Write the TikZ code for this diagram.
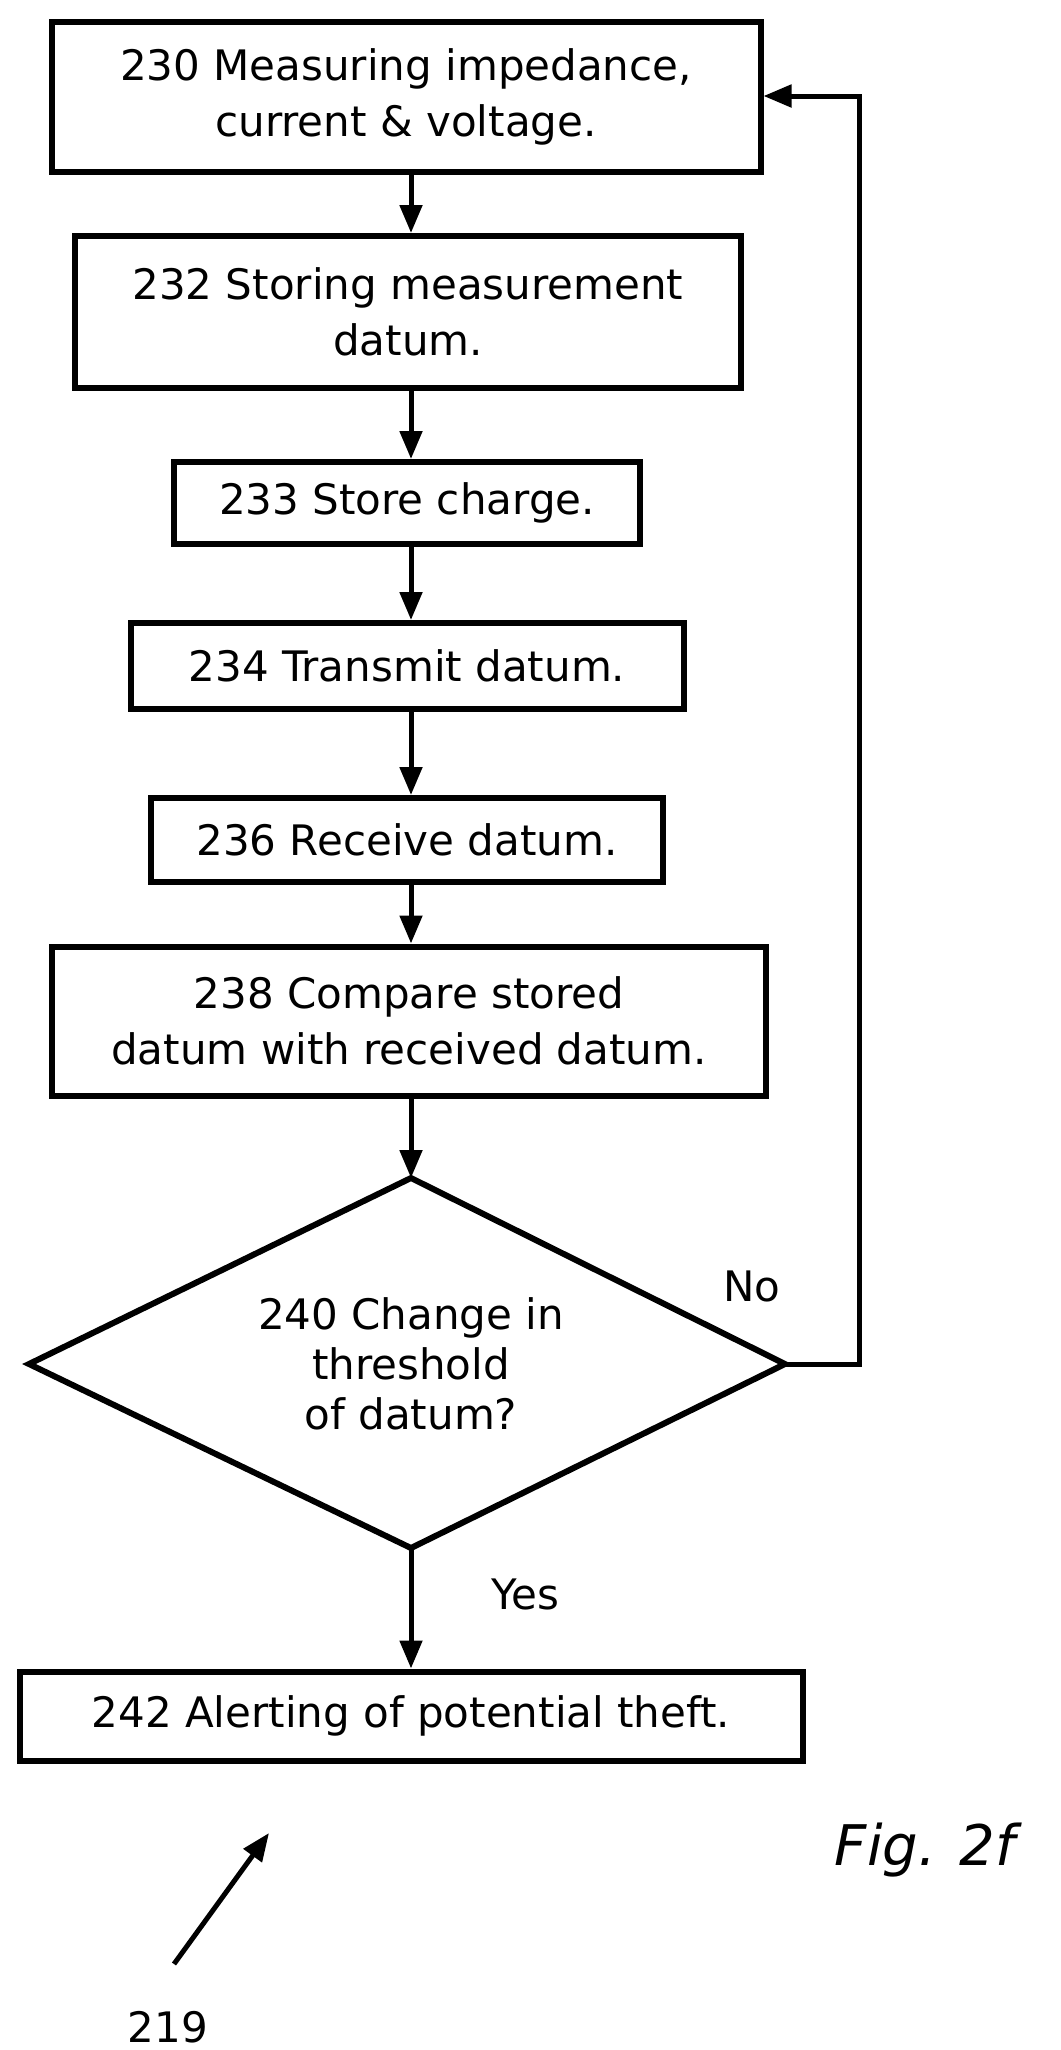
\documentclass[tikz,border=0pt]{standalone}
\usepackage{fontspec}
\setmainfont{DejaVu Sans}
\usetikzlibrary{arrows.meta}
\begin{document}
\begin{tikzpicture}[x=1pt,y=-1pt,
  box/.style={draw,line width=6pt,inner sep=0pt,align=center,font=\fontsize{42}{56}\selectfont},
  lab/.style={font=\fontsize{42}{50}\selectfont},
  arr/.style={line width=5pt,-{Triangle[length=28pt,width=22pt]}}]
\useasboundingbox (0,0) rectangle (1060,2050);
\node[box,minimum width=709pt,minimum height=150pt] (a) at (406,97) {230 Measuring impedance,\\current \& voltage.};
\node[box,minimum width=666pt,minimum height=152pt] (b) at (408,312) {232 Storing measurement\\datum.};
\node[box,minimum width=466pt,minimum height=82pt] (c) at (407,503) {233 Store charge.};
\node[box,minimum width=553pt,minimum height=86pt] (d) at (407,666) {234 Transmit datum.};
\node[box,minimum width=512pt,minimum height=84pt] (e) at (407,840) {236 Receive datum.};
\node[box,minimum width=714pt,minimum height=149pt] (f) at (409,1021) {238 Compare stored\\datum with received datum.};
\coordinate (dt) at (411,1178);
\coordinate (dl) at (29,1364);
\coordinate (dr) at (785,1364);
\coordinate (db) at (411,1548);
\draw[line width=6pt,line join=miter] (dt) -- (dr) -- (db) -- (dl) -- cycle;
\node[lab,align=center] (g) at (411,1364) {240 Change in\\threshold\\of datum?};
\node[box,minimum width=783pt,minimum height=89pt] (h) at (411,1716) {242 Alerting of potential theft.};
\draw[arr] (a.south -| 411,0) -- (b.north -| 411,0);
\draw[arr] (b.south -| 411,0) -- (c.north -| 411,0);
\draw[arr] (c.south -| 411,0) -- (d.north -| 411,0);
\draw[arr] (d.south -| 411,0) -- (e.north -| 411,0);
\draw[arr] (e.south -| 411,0) -- (f.north -| 411,0);
\draw[arr] (f.south -| 411,0) -- (dt);
\draw[arr] (db) -- (h.north -| 411,0);
\coordinate (r1) at (859,1364);
\coordinate (r2) at (859,96);
\draw[arr] (dr) -- (r1) -- (r2) -- (r2 -| a.east);
\node[lab] (no) at (752,1286) {No};
\node[lab] (yes) at (525,1594) {Yes};
\coordinate (p1) at (174,1964);
\coordinate (p2) at (269,1833);
\draw[arr] (p1) -- (p2);
\node[lab] (n219) at (168,2027) {219};
\node[font=\fontsize{56}{60}\selectfont\itshape] (fig) at (925,1850) {Fig. 2f};
\end{tikzpicture}
\end{document}
